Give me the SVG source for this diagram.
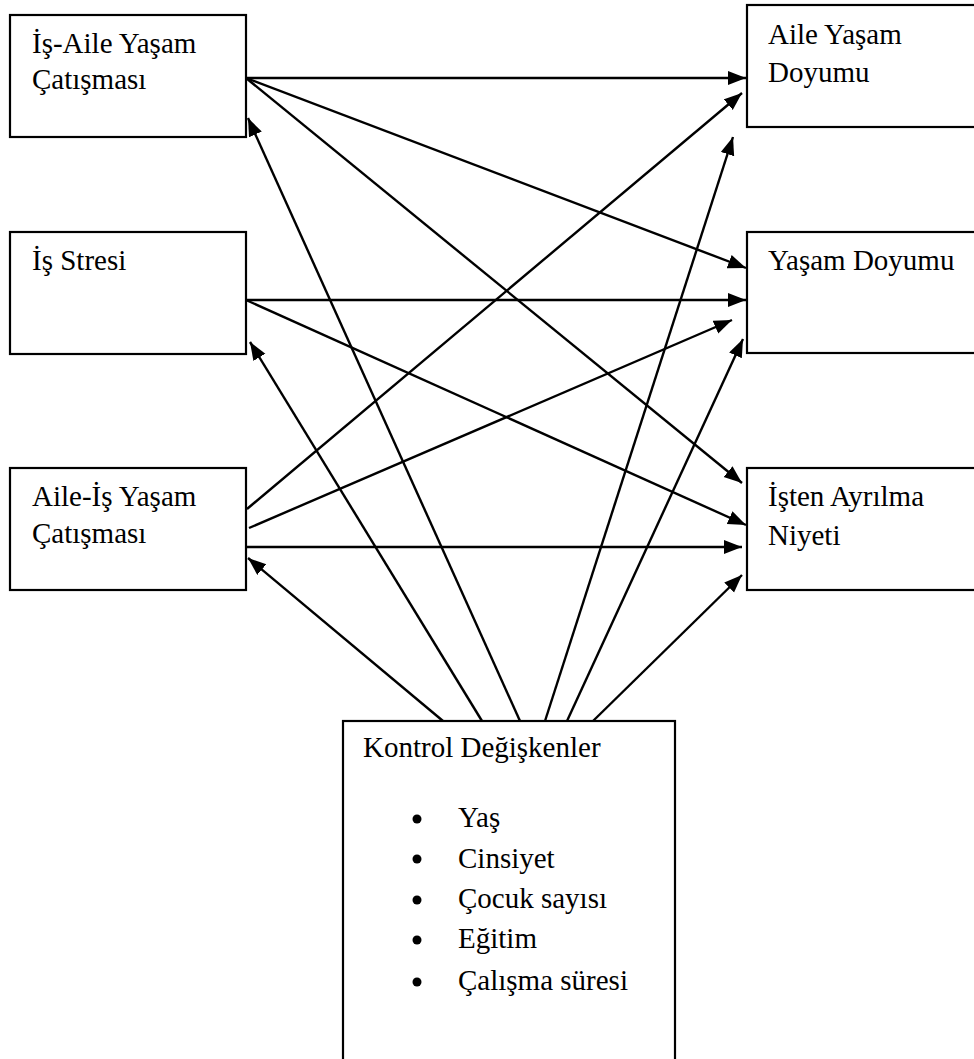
<svg xmlns="http://www.w3.org/2000/svg" width="974" height="1059" viewBox="0 0 974 1059">
<defs>
<style>
.box{fill:#fff;stroke:#000;stroke-width:2.2}
.t{font-family:'Liberation Serif','Times New Roman',serif;font-size:29px;fill:#000}
.c line{stroke:#000;stroke-width:2.4;marker-end:url(#ah)}
</style>
<marker id="ah" markerUnits="userSpaceOnUse" markerWidth="19" markerHeight="15" refX="18" refY="7" orient="auto">
<path d="M0,0 L18,7 L0,14 z" fill="#000"/>
</marker>
</defs>
<rect width="974" height="1059" fill="#fff"/>
<g font-family="Liberation Serif, Times New Roman, serif">
<g id="n1"><rect class="box" x="10" y="15" width="236" height="122"/><text class="t" x="32" y="53">İş-Aile Yaşam</text><text class="t" x="32" y="89">Çatışması</text></g>
<g id="n2"><rect class="box" x="10" y="232" width="236" height="122"/><text class="t" x="32" y="270">İş Stresi</text></g>
<g id="n3"><rect class="box" x="10" y="468" width="236" height="122"/><text class="t" x="32" y="506">Aile-İş Yaşam</text><text class="t" x="32" y="543">Çatışması</text></g>
<g id="r1"><rect class="box" x="747" y="5" width="240" height="122"/><text class="t" x="768" y="44">Aile Yaşam</text><text class="t" x="768" y="82">Doyumu</text></g>
<g id="r2"><rect class="box" x="747" y="232" width="240" height="121"/><text class="t" x="768" y="270">Yaşam Doyumu</text></g>
<g id="r3"><rect class="box" x="747" y="468" width="240" height="122"/><text class="t" x="768" y="506">İşten Ayrılma</text><text class="t" x="768" y="545">Niyeti</text></g>
<g id="k"><rect class="box" x="343" y="721" width="332" height="350"/><text class="t" x="363" y="757">Kontrol Değişkenler</text>
<circle cx="417" cy="819" r="4.5"/><circle cx="417" cy="859" r="4.5"/><circle cx="417" cy="900" r="4.5"/><circle cx="417" cy="940" r="4.5"/><circle cx="417" cy="982" r="4.5"/>
<text class="t" x="458" y="827">Yaş</text><text class="t" x="458" y="868">Cinsiyet</text><text class="t" x="458" y="908">Çocuk sayısı</text><text class="t" x="458" y="948">Eğitim</text><text class="t" x="458" y="990">Çalışma süresi</text></g>
</g>
<g id="connectors" class="c">
<line x1="246" y1="78" x2="746" y2="78"/>
<line x1="246" y1="78" x2="746" y2="268"/>
<line x1="246" y1="78" x2="742" y2="483"/>
<line x1="246" y1="300" x2="746" y2="300"/>
<line x1="246" y1="300" x2="746" y2="525"/>
<line x1="247" y1="509" x2="742" y2="93"/>
<line x1="249" y1="528" x2="732" y2="320"/>
<line x1="246" y1="547" x2="742" y2="547"/>
<line x1="443" y1="721" x2="248" y2="558"/>
<line x1="482" y1="721" x2="250" y2="342"/>
<line x1="520" y1="721" x2="248" y2="118"/>
<line x1="545" y1="721" x2="733" y2="137"/>
<line x1="567" y1="721" x2="743" y2="339"/>
<line x1="593" y1="721" x2="742" y2="575"/>
</g>
</svg>
